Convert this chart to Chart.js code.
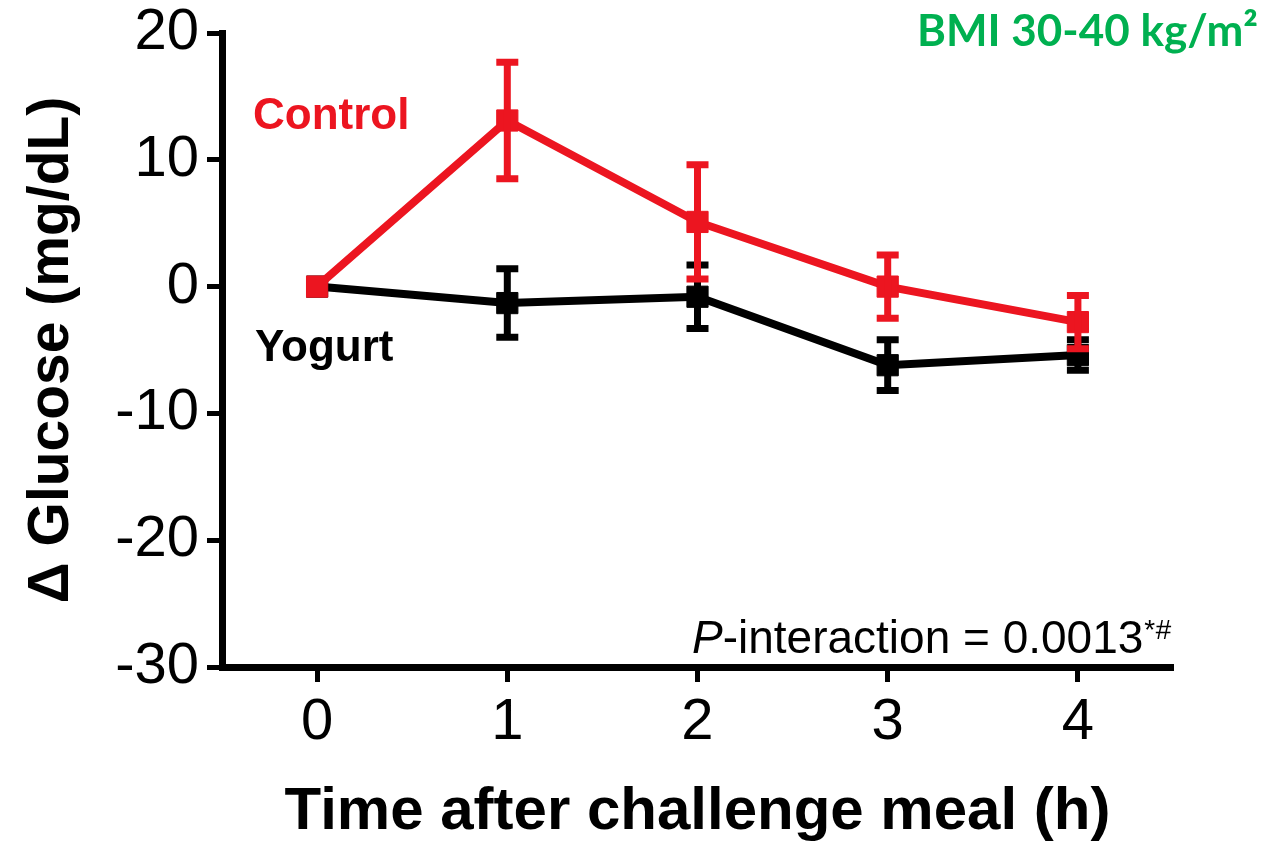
<!DOCTYPE html>
<html>
<head>
<meta charset="utf-8">
<title>Glucose response - BMI 30-40</title>
<script src="https://cdn.jsdelivr.net/npm/chart.js@4.4.1/dist/chart.umd.min.js"></script>
<style>
  html, body { margin: 0; padding: 0; background: #fff; }
  #wrap { width: 1268px; height: 845px; }
</style>
</head>
<body>
<div id="wrap"><canvas id="glucoseChart" width="1268" height="845"></canvas></div>
<script>
// Time points (h) and axis ticks
const hours = [0, 1, 2, 3, 4];
const xTicks = [0, 1, 2, 3, 4];
const yTicks = [-30, -20, -10, 0, 10, 20];

// Mean change in glucose (mg/dL) with SEM
const controlMean = [0, 13.1, 5.1, 0, -2.8];
const controlSem = [0, 4.6, 4.5, 2.5, 2.1];
const yogurtMean = [0, -1.3, -0.8, -6.2, -5.4];
const yogurtSem = [0, 2.7, 2.5, 2.0, 1.2];

const RED = '#ec1520';
const BLACK = '#000000';
const GREEN = '#00b050';
const FONT = "'Liberation Sans', Arial, sans-serif";

/**
 * Error bars (mean +/- SEM), drawn right after each dataset
 */
const errorBars = {
    id: 'errorBars',
    afterDatasetDraw(chart, args) {
        const ds = chart.data.datasets[args.index];
        if (!ds.sem) return;
        const { ctx, scales: { x, y } } = chart;
        ctx.save();
        ctx.strokeStyle = ds.borderColor;
        ctx.lineWidth = 7;
        ctx.lineCap = 'butt';
        ds.data.forEach((p, i) => {
            const e = ds.sem[i];
            if (!e) return;
            const px = x.getPixelForValue(p.x);
            const top = y.getPixelForValue(p.y + e);
            const bot = y.getPixelForValue(p.y - e);
            ctx.beginPath();
            ctx.moveTo(px, top);
            ctx.lineTo(px, bot);
            ctx.moveTo(px - 11, top);
            ctx.lineTo(px + 11, top);
            ctx.moveTo(px - 11, bot);
            ctx.lineTo(px + 11, bot);
            ctx.stroke();
        });
        ctx.restore();
    }
};

/**
 * Series labels, group label and p-value text
 */
const annotations = {
    id: 'annotations',
    afterDraw(chart) {
        const ctx = chart.ctx;
        ctx.save();
        ctx.textBaseline = 'alphabetic';

        // series names
        ctx.font = `bold 44px ${FONT}`;
        ctx.textAlign = 'left';
        ctx.fillStyle = RED;
        ctx.fillText('Control', 253, 129);
        ctx.fillStyle = BLACK;
        ctx.fillText('Yogurt', 255, 361);

        // group label
        ctx.font = "bold 44px Lato, 'Open Sans', sans-serif";
        ctx.textAlign = 'right';
        ctx.fillStyle = GREEN;
        ctx.fillText('BMI 30-40 kg/m\u00B2', 1258, 46);

        // p-value
        ctx.textAlign = 'left';
        ctx.fillStyle = BLACK;
        let px = 692;
        const base = 653;
        ctx.font = `italic 46px ${FONT}`;
        ctx.fillText('P', px, base);
        px += ctx.measureText('P').width;
        ctx.font = `46px ${FONT}`;
        const rest = '-interaction = 0.0013';
        ctx.fillText(rest, px, base);
        px += ctx.measureText(rest).width + 1;
        ctx.font = `28px ${FONT}`;
        ctx.fillText('*', px, base - 14);
        px += ctx.measureText('*').width;
        ctx.font = `italic 28px ${FONT}`;
        ctx.fillText('#', px, base - 14);

        ctx.restore();
    }
};

const toPoints = (xs, ys) => xs.map((h, i) => ({ x: h, y: ys[i] }));

new Chart(document.getElementById('glucoseChart'), {
    type: 'line',
    data: {
        datasets: [
            {
                label: 'Control',
                data: toPoints(hours, controlMean),
                sem: controlSem,
                borderColor: RED,
                backgroundColor: RED,
                borderWidth: 8,
                pointStyle: 'rect',
                pointRadius: 15,
                pointBorderWidth: 1,
                tension: 0
            },
            {
                label: 'Yogurt',
                data: toPoints(hours, yogurtMean),
                sem: yogurtSem,
                borderColor: BLACK,
                backgroundColor: BLACK,
                borderWidth: 8,
                pointStyle: 'rect',
                pointRadius: 15,
                pointBorderWidth: 1,
                tension: 0
            }
        ]
    },
    options: {
        responsive: false,
        animation: false,
        layout: { padding: { left: 0, right: 95, top: 33, bottom: 0 } },
        plugins: {
            legend: { display: false },
            tooltip: { enabled: false }
        },
        scales: {
            x: {
                type: 'linear',
                min: -0.5,
                max: 4.5,
                afterBuildTicks: scale => { scale.ticks = xTicks.map(v => ({ value: v })); },
                afterFit: scale => { scale.height = 178; },
                border: { display: true, color: BLACK, width: 7 },
                grid: { drawOnChartArea: false, drawTicks: true, tickLength: 15, tickWidth: 5, tickColor: BLACK },
                ticks: { color: BLACK, padding: 12, font: { family: FONT, size: 58, lineHeight: 1 } },
                title: {
                    display: true,
                    text: 'Time after challenge meal (h)',
                    color: BLACK,
                    font: { family: FONT, size: 60, weight: 'bold', lineHeight: 1 },
                    padding: { top: 0, bottom: 3 }
                }
            },
            y: {
                min: -30,
                max: 20,
                afterBuildTicks: scale => { scale.ticks = yTicks.map(v => ({ value: v })); },
                afterFit: scale => {
                    scale.width = 222;
                    scale.paddingTop = 0;
                    scale.paddingBottom = 0;
                },
                border: { display: true, color: BLACK, width: 7 },
                grid: { drawOnChartArea: false, drawTicks: true, tickLength: 15, tickWidth: 5, tickColor: BLACK },
                ticks: { color: BLACK, padding: 8, font: { family: FONT, size: 58, lineHeight: 1 } },
                title: {
                    display: true,
                    text: '\u0394 Glucose (mg/dL)',
                    color: BLACK,
                    font: { family: FONT, size: 57, weight: 'bold', lineHeight: 1 },
                    padding: { top: 24, bottom: 0 }
                }
            }
        }
    },
    plugins: [errorBars, annotations]
});
</script>
</body>
</html>
